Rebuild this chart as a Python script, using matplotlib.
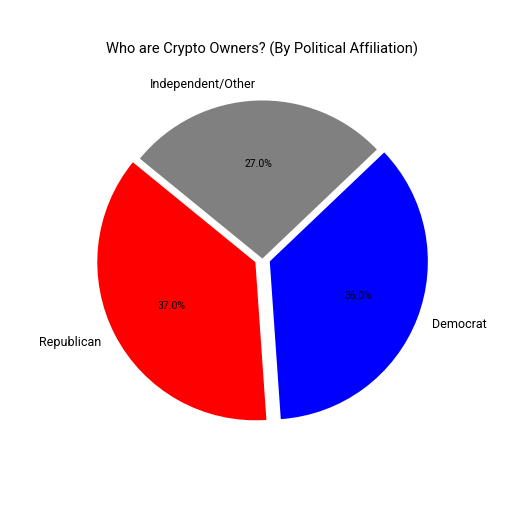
import matplotlib
matplotlib.use("Agg")
import matplotlib.pyplot as plt

plt.rcParams['font.family'] = ['Roboto', 'DejaVu Sans']

# party shares
parties = ['Democrat', 'Independent/Other', 'Republican']
shares = [36, 27, 37]
colors = ['blue', 'grey', 'red']

fig, ax = plt.subplots(figsize=(5.12, 5.12), dpi=100)
ax.pie(shares, labels=parties, colors=colors, autopct='%1.1f%%',
       startangle=-86, explode=[0.05, 0, 0.05],
       textprops={'fontsize': 9}, labeldistance=1.1)
for t in ax.texts:
    if t.get_text().endswith('%'):
        t.set_fontsize(7.5)
ax.set_title("Who are Crypto Owners? (By Political Affiliation)", fontsize=10.5)
ax.set_aspect('equal', adjustable='datalim')
ax.set_xlim(-1.255, 1.255)
ax.set_ylim(-1.255, 1.255)
plt.savefig('out.png', dpi=100)
